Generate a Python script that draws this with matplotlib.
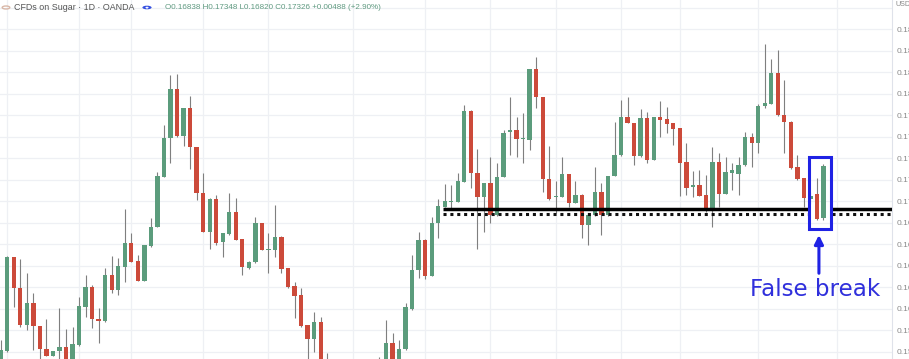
# Sugar daily candles with a false break below support
import numpy as np
import pandas as pd
import matplotlib
matplotlib.use("Agg")
import matplotlib.pyplot as plt
from matplotlib.patches import Rectangle, Circle

nan = float("nan")

# OHLC per daily candle, left to right (nan = candle below the visible window)
opens = [0.15428, 0.15608, 0.16482, 0.16188, 0.15847, 0.16048, 0.15837, 0.15626, 0.15558, 0.15608,
         0.15645, 0.15475, 0.15661, 0.16017, 0.16197, 0.15905, 0.15887, 0.16312, 0.16172, 0.16389,
         0.16612, 0.16439, 0.16259, 0.16581, 0.16761, 0.17226, 0.17583, 0.18039, 0.17605, 0.17862,
         0.17500, 0.17077, 0.16714, 0.17021, 0.16621, 0.16693, 0.16898, 0.16644, 0.16374, 0.16430,
         0.16793, 0.16541, 0.16544, 0.16668, 0.16374, 0.16209, 0.16126, 0.15847, 0.15714, 0.15877,
         0.15475, nan, nan, nan, nan, nan, nan, nan, 0.15381, 0.15428,
         0.15676, 0.15502, 0.15621, 0.15993, 0.16358, 0.16637, 0.16302, 0.16798, 0.16947, 0.16994,
         0.16994, 0.17180, 0.17837, 0.17258, 0.17040, 0.17165, 0.16870, 0.17221, 0.17639, 0.17661,
         0.17574, 0.17568, 0.18225, 0.17965, 0.17202, 0.17034, 0.17034, 0.17248, 0.16984, 0.17056,
         0.16777, 0.16870, 0.17087, 0.16870, 0.17233, 0.17428, 0.17784, 0.17728, 0.17419, 0.17769,
         0.17381, 0.17784, 0.17760, 0.17723, 0.17676, 0.17366, 0.17128, 0.17149, 0.17056, 0.16916,
         0.17366, 0.17065, 0.17263, 0.17251, 0.17335, 0.17598, 0.17537, 0.17884, 0.17902, 0.18194,
         0.17800, 0.17738, 0.17314, 0.17211, 0.17019, 0.17065, 0.16838]
highs = [0.15707, 0.16488, 0.16482, 0.16461, 0.16330, 0.16144, 0.15837, 0.15902, 0.15608, 0.16005,
         0.15809, 0.15828, 0.16107, 0.16312, 0.16219, 0.16005, 0.16374, 0.16488, 0.16467, 0.16923,
         0.16700, 0.16498, 0.16591, 0.16839, 0.17273, 0.17707, 0.18172, 0.18181, 0.17865, 0.17977,
         0.17502, 0.17258, 0.17028, 0.17056, 0.16702, 0.17072, 0.17025, 0.16647, 0.16442, 0.16854,
         0.16795, 0.16700, 0.16960, 0.16670, 0.16377, 0.16249, 0.16188, 0.15847, 0.15970, 0.15924,
         0.15583, nan, nan, nan, nan, nan, nan, nan, 0.15552, 0.15893,
         0.15769, 0.15707, 0.16048, 0.16498, 0.16714, 0.16642, 0.16854, 0.17016, 0.17158, 0.17149,
         0.17263, 0.17893, 0.17842, 0.17481, 0.17168, 0.17412, 0.17356, 0.17661, 0.17970, 0.17779,
         0.17821, 0.18228, 0.18337, 0.17968, 0.17512, 0.17189, 0.17412, 0.17251, 0.17186, 0.17061,
         0.16875, 0.17319, 0.17170, 0.17237, 0.17738, 0.17940, 0.17970, 0.17730, 0.17853, 0.17831,
         0.17781, 0.17933, 0.17872, 0.17726, 0.17679, 0.17542, 0.17282, 0.17288, 0.17242, 0.17500,
         0.17444, 0.17412, 0.17351, 0.17412, 0.17645, 0.17630, 0.17902, 0.18461, 0.18318, 0.18405,
         0.18126, 0.17740, 0.17428, 0.17214, 0.17084, 0.17211, 0.17348]
lows = [0.15381, 0.15595, 0.16017, 0.15828, 0.15800, 0.15614, 0.15475, 0.15558, 0.15558, 0.15502,
        0.15428, 0.15447, 0.15651, 0.15924, 0.15816, 0.15676, 0.15875, 0.16147, 0.16126, 0.16249,
        0.16433, 0.16256, 0.16256, 0.16572, 0.16758, 0.17223, 0.17351, 0.17600, 0.17512, 0.17295,
        0.17009, 0.16712, 0.16551, 0.16591, 0.16482, 0.16688, 0.16633, 0.16312, 0.16368, 0.16423,
        0.16540, 0.16328, 0.16482, 0.16333, 0.16191, 0.15909, 0.15828, 0.15475, 0.15598, 0.15428,
        0.15335, nan, nan, nan, nan, nan, nan, nan, 0.15335, 0.15409,
        0.15475, 0.15484, 0.15614, 0.15986, 0.16281, 0.16272, 0.16298, 0.16653, 0.16944, 0.16916,
        0.16991, 0.17177, 0.17118, 0.16551, 0.16714, 0.16793, 0.16865, 0.17219, 0.17428, 0.17412,
        0.17351, 0.17475, 0.17862, 0.17087, 0.17014, 0.16886, 0.17033, 0.16947, 0.16981, 0.16653,
        0.16591, 0.16865, 0.16684, 0.16865, 0.17228, 0.17423, 0.17726, 0.17335, 0.17414, 0.17356,
        0.17377, 0.17598, 0.17630, 0.17521, 0.17047, 0.17056, 0.17040, 0.17042, 0.16901, 0.16761,
        0.16947, 0.17061, 0.17102, 0.17056, 0.17330, 0.17319, 0.17449, 0.17865, 0.17898, 0.17795,
        0.17449, 0.17302, 0.17200, 0.16947, 0.16972, 0.16823, 0.16820]
closes = [0.15614, 0.16482, 0.16188, 0.15847, 0.16051, 0.15837, 0.15623, 0.15558, 0.15608, 0.15645,
          0.15475, 0.15670, 0.16023, 0.16197, 0.15900, 0.15887, 0.16312, 0.16172, 0.16395, 0.16612,
          0.16435, 0.16259, 0.16588, 0.16761, 0.17233, 0.17589, 0.18039, 0.17605, 0.17862, 0.17500,
          0.17077, 0.16714, 0.17021, 0.16612, 0.16700, 0.16898, 0.16637, 0.16383, 0.16435, 0.16793,
          0.16544, 0.16547, 0.16668, 0.16365, 0.16197, 0.16116, 0.15837, 0.15714, 0.15877, 0.15475,
          0.15381, nan, nan, nan, nan, nan, nan, nan, 0.15502, 0.15676,
          0.15502, 0.15621, 0.16017, 0.16358, 0.16637, 0.16302, 0.16798, 0.16956, 0.17000, 0.16995,
          0.17189, 0.17837, 0.17258, 0.17040, 0.17165, 0.16870, 0.17226, 0.17635, 0.17661, 0.17574,
          0.17577, 0.18225, 0.17965, 0.17202, 0.17016, 0.17037, 0.17248, 0.16984, 0.17056, 0.16777,
          0.16870, 0.17087, 0.16870, 0.17233, 0.17428, 0.17784, 0.17728, 0.17419, 0.17769, 0.17381,
          0.17779, 0.17754, 0.17716, 0.17667, 0.17356, 0.17118, 0.17149, 0.17047, 0.16916, 0.17366,
          0.17065, 0.17273, 0.17288, 0.17335, 0.17598, 0.17537, 0.17884, 0.17909, 0.18194, 0.17800,
          0.17738, 0.17304, 0.17202, 0.17025, 0.17047, 0.16830, 0.17326]

# right price scale (top line has no label, the USD tag sits there) and date grid
price_ticks = [0.156, 0.158, 0.160, 0.162, 0.164, 0.166, 0.168, 0.170, 0.172,
               0.174, 0.176, 0.178, 0.180, 0.182, 0.184, 0.186, 0.188]
time_ticks = [1, 12, 20, 31, 41, 54, 65, 75, 85, 95, 104, 116, 128]

# drawn support levels and the false-break marker
support_solid = 0.16926
support_dotted = 0.16875
line_start = 67.7
box_left, box_right = 123.83, 127.1
box_low, box_high = 0.16744, 0.17405
arrow_x, arrow_tail, arrow_tip = 125.3, 0.16328, 0.16684
label_x, label_y = 114.75, 0.16116

UP = "#5b9c7c"
DOWN = "#cc4a3a"
BLUE = "#1f22e4"
GRID = "#eef0f4"


def draw_candles(ax, df):
    df = df.dropna()
    up = df["close"] >= df["open"]
    colors = np.where(up, UP, DOWN)
    ax.vlines(df.index, df["low"], df["high"], colors="#7f7f7f", lw=0.8, zorder=2)
    bottom = df[["open", "close"]].min(axis=1)
    height = (df["close"] - df["open"]).abs().clip(lower=0.00008)
    ax.bar(df.index, height, bottom=bottom, width=0.66, color=colors, lw=0, zorder=3)


def draw_annotations(ax, x_end):
    segs_l = [line_start, box_right + 0.2]
    segs_r = [box_left - 0.2, x_end]
    ax.hlines([support_solid] * 2, segs_l, segs_r, colors="black", lw=2.5, zorder=4)
    ax.hlines([support_dotted] * 2, segs_l, segs_r, colors="#111111", lw=2.2,
              linestyles=[(0, (1, 1.25))], zorder=4)
    ax.add_patch(Rectangle((box_left, box_low), box_right - box_left, box_high - box_low,
                           fill=False, ec=BLUE, lw=2.2, zorder=5))
    ax.annotate("", xy=(arrow_x, arrow_tip), xytext=(arrow_x, arrow_tail),
                arrowprops=dict(arrowstyle="-|>", color=BLUE, lw=2.2, mutation_scale=13,
                                shrinkA=0, shrinkB=0), zorder=5)
    ax.text(label_x, label_y, "False break", fontsize=16.6, color="#3030dc", va="baseline",
            family="DejaVu Sans", zorder=5)


def draw_header(fig):
    W, H = 909, 359
    fig.patches.append(Circle((6 / W, 1 - 7.5 / H), 3.8 / W, transform=fig.transFigure,
                              fill=False, ec="#d9b8a8", lw=1.0))
    fig.text(14 / W, 1 - 7.5 / H, "CFDs on Sugar \u00b7 1D \u00b7 OANDA", fontsize=6.4,
             color="#555555", va="center", family="Liberation Sans")
    fig.patches.append(Circle((147 / W, 1 - 7.5 / H), 4.6 / W, transform=fig.transFigure,
                              color="#3550e0", lw=0))
    fig.text(147 / W, 1 - 7.7 / H, "\u25c2\u25b8", fontsize=3.6, color="white",
             ha="center", va="center")
    fig.text(165 / W, 1 - 7.5 / H,
             "O0.16838 H0.17348 L0.16820 C0.17326 +0.00488 (+2.90%)",
             fontsize=5.75, color="#5f9a80", va="center", family="Liberation Sans")
    fig.text(896 / W, 1 - 5 / H, "USD", fontsize=5.2, color="#8a8a8a", va="center",
             family="Liberation Sans")


def main():
    df = pd.DataFrame({"open": opens, "high": highs, "low": lows, "close": closes})

    fig = plt.figure(figsize=(9.09, 3.59), dpi=100)
    fig.patch.set_facecolor("white")
    ax = fig.add_axes([0, 0, 892 / 909, 1])
    x_end = 136.49
    ax.set_xlim(-0.107, x_end)
    ax.set_ylim(0.155303, 0.188698)

    ax.set_xticks(time_ticks)
    ax.set_xticklabels([])
    ax.set_yticks(price_ticks)
    ax.set_yticklabels(["%.5f" % v for v in price_ticks[:-1]] + [""])
    ax.yaxis.tick_right()
    ax.tick_params(axis="both", length=0)
    ax.tick_params(axis="y", pad=3.5, labelsize=6, labelcolor="#8a8a8a")
    for lab in ax.get_yticklabels():
        lab.set_family("Liberation Sans")
    ax.grid(True, color=GRID, lw=0.9, zorder=0)
    ax.set_axisbelow(True)
    for side in ["top", "left", "bottom"]:
        ax.spines[side].set_visible(False)
    ax.spines["right"].set_color("#dfe2ea")
    ax.spines["right"].set_linewidth(0.8)

    draw_candles(ax, df)
    draw_annotations(ax, x_end)
    draw_header(fig)

    fig.savefig("out.png", dpi=100)


if __name__ == "__main__":
    main()
